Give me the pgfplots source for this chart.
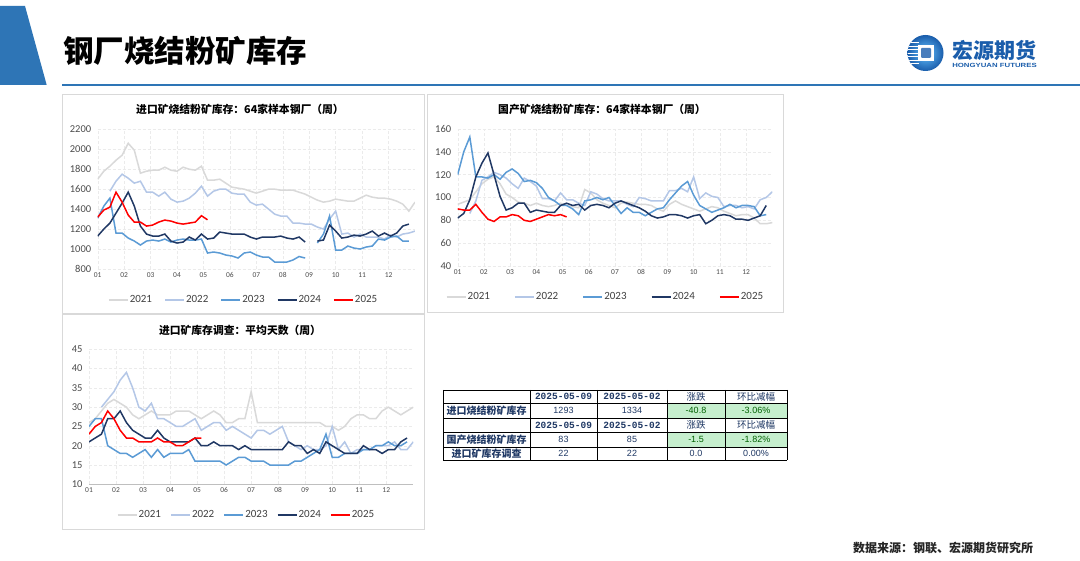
\documentclass[border=0pt]{standalone}
\usepackage{pgfplots}
\pgfplotsset{compat=1.18}
\usepackage{pgfplotstable}
\usepackage{graphicx}
\usepackage{fontspec}
\setmainfont{Carlito}
\newfontfamily\cjk{Noto Sans CJK SC}
\newfontfamily\mono{Liberation Mono}
\newfontfamily\arial{Liberation Sans}

\definecolor{c21}{HTML}{D9D9D9}
\definecolor{c22}{HTML}{B4C7E7}
\definecolor{c23}{HTML}{5B9BD5}
\definecolor{c24}{HTML}{203864}
\definecolor{c25}{HTML}{FF0000}
\definecolor{hyblue}{HTML}{2E75B6}
\definecolor{navy}{HTML}{1F3864}
\definecolor{gfill}{HTML}{C6EFCE}
\definecolor{gtext}{HTML}{006100}
\definecolor{logob}{HTML}{1A5DAB}

% weekly data, week index 0..52, nan = no value
\pgfplotstableread{
w y21 y22 y23 y24 y25
0 1700 nan 1310 1130 1320
1 1780 nan 1430 1200 1390
2 1830 1580 1510 1260 1420
3 1890 1680 1160 1360 1570
4 1940 1750 1160 1460 1470
5 2060 1710 1110 1570 1340
6 1990 1660 1080 1430 1270
7 1760 1680 1040 1230 1270
8 1780 1570 1080 1150 1230
9 1790 1570 1090 1130 1240
10 1790 1530 1080 1130 1270
11 1820 1570 1100 1150 1290
12 1790 1500 1070 1080 1280
13 1780 1470 1090 1060 1260
14 1820 1480 1100 1070 1250
15 1800 1510 1090 1120 1260
16 1790 1560 1090 1090 1270
17 1830 1630 1100 1150 1334
18 1690 1530 960 1100 1293
19 1690 1580 970 1110 nan
20 1700 1600 960 1170 nan
21 1660 1600 940 1160 nan
22 1620 1560 930 1150 nan
23 1610 1550 910 1150 nan
24 1600 1550 960 1150 nan
25 1580 1470 970 1120 nan
26 1560 1440 940 1100 nan
27 1580 1450 920 1120 nan
28 1600 1400 920 1120 nan
29 1600 1350 870 1120 nan
30 1590 1330 870 1130 nan
31 1590 1330 870 1110 nan
32 1590 1260 890 1100 nan
33 1570 1260 925 1120 nan
34 1550 1250 910 1070 nan
35 1520 1250 nan nan nan
36 1490 1220 1060 1080 nan
37 1470 1200 1150 1090 nan
38 1480 1300 1330 1240 nan
39 1500 1380 990 1180 nan
40 1490 1150 990 1110 nan
41 1480 1160 1030 1120 nan
42 1480 1120 1010 1140 nan
43 1510 1150 1000 1130 nan
44 1540 1120 1020 1150 nan
45 1520 1120 1030 1180 nan
46 1510 1120 1100 1130 nan
47 1510 1100 1090 1160 nan
48 1500 1140 1120 1130 nan
49 1480 1120 1130 1160 nan
50 1450 1150 1080 1230 nan
51 1380 1160 1080 1250 nan
52 1470 1180 nan nan nan
}\tabA

\pgfplotstableread{
w y21 y22 y23 y24 y25
0 94 nan 120 82 90
1 96 nan 140 86 89
2 98 86 153 98 89
3 105 97 118 118 94
4 112 115 118 130 87
5 116 118 117 139 81
6 118 122 120 120 79
7 112 120 116 101 83
8 103 117 122 89 83
9 100 112 125 91 85
10 96 108 121 95 84
11 95 117 114 95 80
12 93 114 115 87 79
13 95 110 113 89 81
14 93 99 108 88 83
15 92 99 100 87 85
16 93 97 97 87 84
17 95 104 93 93 85
18 93 98 93 95 83
19 92 98 90 93 nan
20 91 95 85 94 nan
21 107 93 97 89 nan
22 104 105 98 93 nan
23 98 103 100 94 nan
24 95 99 98 93 nan
25 93 97 100 91 nan
26 91 97 93 95 nan
27 95 97 86 97 nan
28 96 94 91 95 nan
29 95 92 87 93 nan
30 94 100 87 91 nan
31 94 99 84 88 nan
32 93 97 87 84 nan
33 90 97 90 82 nan
34 88 97 91 83 nan
35 94 106 98 85 nan
36 97 106 104 85 nan
37 94 108 110 84 nan
38 92 105 114 82 nan
39 90 118 102 84 nan
40 88 99 93 85 nan
41 90 104 90 77 nan
42 92 101 87 80 nan
43 91 100 89 84 nan
44 88 92 91 85 nan
45 86 93 94 84 nan
46 84 93 91 81 nan
47 85 91 93 81 nan
48 85 92 93 80 nan
49 82 90 92 82 nan
50 77 98 84 84 nan
51 77 100 85 93 nan
52 78 105 nan nan nan
}\tabB

\pgfplotstableread{
w y21 y22 y23 y24 y25
0 26 nan 25 21 23
1 27 nan 27 22 25
2 29 30 27 23 26
3 31 32 20 27 29
4 32 34 19 27 27
5 31 37 18 29 24
6 30 39 18 26 22
7 28 35 17 24 22
8 27 30 18 23 21
9 28 29 19 22 21
10 29 31 17 22 21
11 28 27 19 24 22
12 28 27 17 22 21
13 28 26 18 21 21
14 29 25 18 21 20
15 29 25 18 21 20
16 29 26 19 21 21
17 28 27 16 22 22
18 27 24 16 20 22
19 28 25 16 20 nan
20 29 26 16 21 nan
21 28 26 16 20 nan
22 26 24 15 20 nan
23 26 25 16 20 nan
24 27 24 17 19 nan
25 27 23 17 20 nan
26 34 22 16 19 nan
27 26 24 16 19 nan
28 26 24 16 19 nan
29 26 23 15 19 nan
30 26 24 15 19 nan
31 26 25 15 19 nan
32 26 21 15 21 nan
33 26 20 16 20 nan
34 26 19 16 20 nan
35 26 20 17 18 nan
36 26 19 18 19 nan
37 26 19 19 18 nan
38 25 20 23 21 nan
39 25 25 17 20 nan
40 24 19 17 19 nan
41 25 21 18 18 nan
42 27 18 18 18 nan
43 28 19 18 18 nan
44 28 19 19 20 nan
45 27 19 19 19 nan
46 27 20 20 19 nan
47 29 20 20 18 nan
48 30 20 21 19 nan
49 29 21 20 19 nan
50 28 19 20 21 nan
51 29 19 21 22 nan
52 30 21 nan nan nan
}\tabC

\pgfplotsset{
  hy/.style={
    scale only axis, xmin=0, xmax=52,
    xtick={0,4.333,8.667,13,17.333,21.667,26,30.333,34.667,39,43.333,47.667},
    xticklabels={01,02,03,04,05,06,07,08,09,10,11,12},
    axis line style={draw=none}, tick style={draw=none},
    grid=major, grid style={densely dashed, draw=black!8},
    unbounded coords=jump, no markers,
    /pgf/number format/assume math mode=true,
    /pgf/number format/1000 sep={},
    yticklabel style={font=\fontsize{10.5}{11}\selectfont, text=black!70, xshift=-3pt},
    xticklabel style={font=\fontsize{7.5}{8}\selectfont, text=black!70},
    every axis plot/.append style={line width=1.5pt},
    legend columns=5,
    legend style={draw=none, fill=none, font=\fontsize{11}{12}\selectfont,
      text=black!75, anchor=center, nodes={inner sep=1pt}},
    legend image code/.code={\draw[##1, line width=2pt] (0pt,0pt) -- (19pt,0pt);},
  }
}

\begin{document}
\begin{tikzpicture}
\useasboundingbox (0pt,0pt) rectangle (1080pt,561pt);
\fill[white] (0pt,0pt) rectangle (1080pt,561pt);

% header
\fill[hyblue] (0pt,555pt) -- (25pt,555pt) -- (46.7pt,476pt) -- (0pt,476pt) -- cycle;
\draw[hyblue, line width=2.2pt] (62pt,476pt) -- (1080pt,476pt);
\node[anchor=west, inner sep=0pt] at (63pt,510.5pt)
  {\cjk\bfseries\fontsize{30.5}{30}\selectfont 钢厂烧结粉矿库存};

% logo
\shade[inner color=cyan!60!blue!60, outer color=logob] (925.5pt,508pt) circle (18pt);
\begin{scope}
\clip (925.5pt,508pt) circle (18pt);
\foreach \yy in {497,500.5,504,507.5,511,514.5,518}
  \draw[white, line width=1pt] (905pt,\yy pt) -- (919pt,\yy pt);
\end{scope}
\fill[white] (918pt,500pt) rectangle (934pt,516pt);
\fill[logob!80, rounded corners=1pt] (921pt,503pt) rectangle (931pt,513pt);
\node[inner sep=0pt, text=logob] at (994pt,511pt)
  {\cjk\bfseries\fontsize{21}{21}\selectfont 宏源期货};
\node[inner sep=0pt, text=logob] at (994.5pt,495.5pt)
  {\scalebox{1.3}[1]{\arial\bfseries\fontsize{6}{6}\selectfont HONGYUAN FUTURES}};

% chart frames
\draw[c21, line width=0.8pt] (62pt,467pt) rectangle (424pt,248pt);
\draw[c21, line width=0.8pt] (427pt,467pt) rectangle (783pt,249pt);
\draw[c21, line width=0.8pt] (62pt,247pt) rectangle (424pt,32pt);

\node at (240pt,452pt) {\cjk\bfseries\fontsize{10.8}{12}\selectfont 进口矿烧结粉矿库存：64家样本钢厂（周）};
\node at (602pt,452pt) {\cjk\bfseries\fontsize{10.8}{12}\selectfont 国产矿烧结粉矿库存：64家样本钢厂（周）};
\node at (240pt,231pt) {\cjk\bfseries\fontsize{10.8}{12}\selectfont 进口矿库存调查：平均天数（周）};

% chart 1
\begin{axis}[hy, at={(97.7pt,292pt)}, anchor=south west,
  width=317.3pt, height=139.7pt, ymin=800, ymax=2200, ytick={800,1000,...,2200},
  legend style={at={(axis description cs:0.458,-0.222)},
    /tikz/every even column/.append style={column sep=11pt}}]
\addplot[c21] table[x=w,y=y21]{\tabA};
\addplot[c22] table[x=w,y=y22]{\tabA};
\addplot[c23] table[x=w,y=y23]{\tabA};
\addplot[c24] table[x=w,y=y24]{\tabA};
\addplot[c25] table[x=w,y=y25]{\tabA};
\legend{2021,2022,2023,2024,2025}
\draw[black!25, line width=0.8pt] (rel axis cs:0,0) -- (rel axis cs:1,0);
\end{axis}

% chart 2
\begin{axis}[hy, at={(457.7pt,295pt)}, anchor=south west,
  width=314.6pt, height=137pt, ymin=40, ymax=160, ytick={40,60,...,160},
  legend style={at={(axis description cs:0.468,-0.226)},
    /tikz/every even column/.append style={column sep=23pt}}]
\addplot[c21] table[x=w,y=y21]{\tabB};
\addplot[c22] table[x=w,y=y22]{\tabB};
\addplot[c23] table[x=w,y=y23]{\tabB};
\addplot[c24] table[x=w,y=y24]{\tabB};
\addplot[c25] table[x=w,y=y25]{\tabB};
\legend{2021,2022,2023,2024,2025}
\draw[black!25, line width=0.8pt] (rel axis cs:0,0) -- (rel axis cs:1,0);
\end{axis}

% chart 3
\begin{axis}[hy, at={(89pt,76.7pt)}, anchor=south west,
  width=324.3pt, height=135pt, ymin=10, ymax=45, ytick={10,15,...,45},
  legend style={at={(axis description cs:0.484,-0.227)},
    /tikz/every even column/.append style={column sep=8pt}}]
\addplot[c21] table[x=w,y=y21]{\tabC};
\addplot[c22] table[x=w,y=y22]{\tabC};
\addplot[c23] table[x=w,y=y23]{\tabC};
\addplot[c24] table[x=w,y=y24]{\tabC};
\addplot[c25] table[x=w,y=y25]{\tabC};
\legend{2021,2022,2023,2024,2025}
\draw[black!25, line width=0.8pt] (rel axis cs:0,0) -- (rel axis cs:1,0);
\end{axis}

% table
\fill[gfill] (667pt,157.5pt) rectangle (787pt,143pt);
\fill[gfill] (667pt,129pt) rectangle (787pt,114pt);
\foreach \yy in {171,157.5,143,129,114,100.5}
  \draw[black, line width=0.6pt] (443pt,\yy pt) -- (787pt,\yy pt);
\foreach \xx in {443,530,597,667,725,787}
  \draw[black, line width=0.6pt] (\xx pt,171pt) -- (\xx pt,100.5pt);
\begin{scope}[every node/.style={inner sep=0pt, text=navy}]
\foreach \yy in {164.25,136}{
  \node at (563.5pt,\yy pt) {\mono\bfseries\fontsize{9.5}{10}\selectfont 2025-05-09};
  \node at (632pt,\yy pt) {\mono\bfseries\fontsize{9.5}{10}\selectfont 2025-05-02};
  \node at (696pt,\yy pt) {\cjk\fontsize{9.5}{10}\selectfont 涨跌};
  \node at (756pt,\yy pt) {\cjk\fontsize{9.5}{10}\selectfont 环比减幅};
}
\node at (486.5pt,150.25pt) {\cjk\bfseries\fontsize{10}{11}\selectfont 进口烧结粉矿库存};
\node at (486.5pt,121.5pt) {\cjk\bfseries\fontsize{10}{11}\selectfont 国产烧结粉矿库存};
\node at (486.5pt,107.25pt) {\cjk\bfseries\fontsize{10}{11}\selectfont 进口矿库存调查};
\node at (563.5pt,150.25pt) {\arial\fontsize{9}{10}\selectfont 1293};
\node at (632pt,150.25pt) {\arial\fontsize{9}{10}\selectfont 1334};
\node[text=gtext] at (696pt,150.25pt) {\arial\fontsize{9}{10}\selectfont -40.8};
\node[text=gtext] at (756pt,150.25pt) {\arial\fontsize{9}{10}\selectfont -3.06\%};
\node at (563.5pt,121.5pt) {\arial\fontsize{9}{10}\selectfont 83};
\node at (632pt,121.5pt) {\arial\fontsize{9}{10}\selectfont 85};
\node[text=gtext] at (696pt,121.5pt) {\arial\fontsize{9}{10}\selectfont -1.5};
\node[text=gtext] at (756pt,121.5pt) {\arial\fontsize{9}{10}\selectfont -1.82\%};
\node at (563.5pt,107.25pt) {\arial\fontsize{9}{10}\selectfont 22};
\node at (632pt,107.25pt) {\arial\fontsize{9}{10}\selectfont 22};
\node at (696pt,107.25pt) {\arial\fontsize{9}{10}\selectfont 0.0};
\node at (756pt,107.25pt) {\arial\fontsize{9}{10}\selectfont 0.00\%};
\end{scope}

% footer
\node[anchor=west, inner sep=0pt, text=black!85] at (853pt,13pt)
  {\cjk\bfseries\fontsize{12}{12}\selectfont 数据来源：钢联、宏源期货研究所};
\end{tikzpicture}
\end{document}
